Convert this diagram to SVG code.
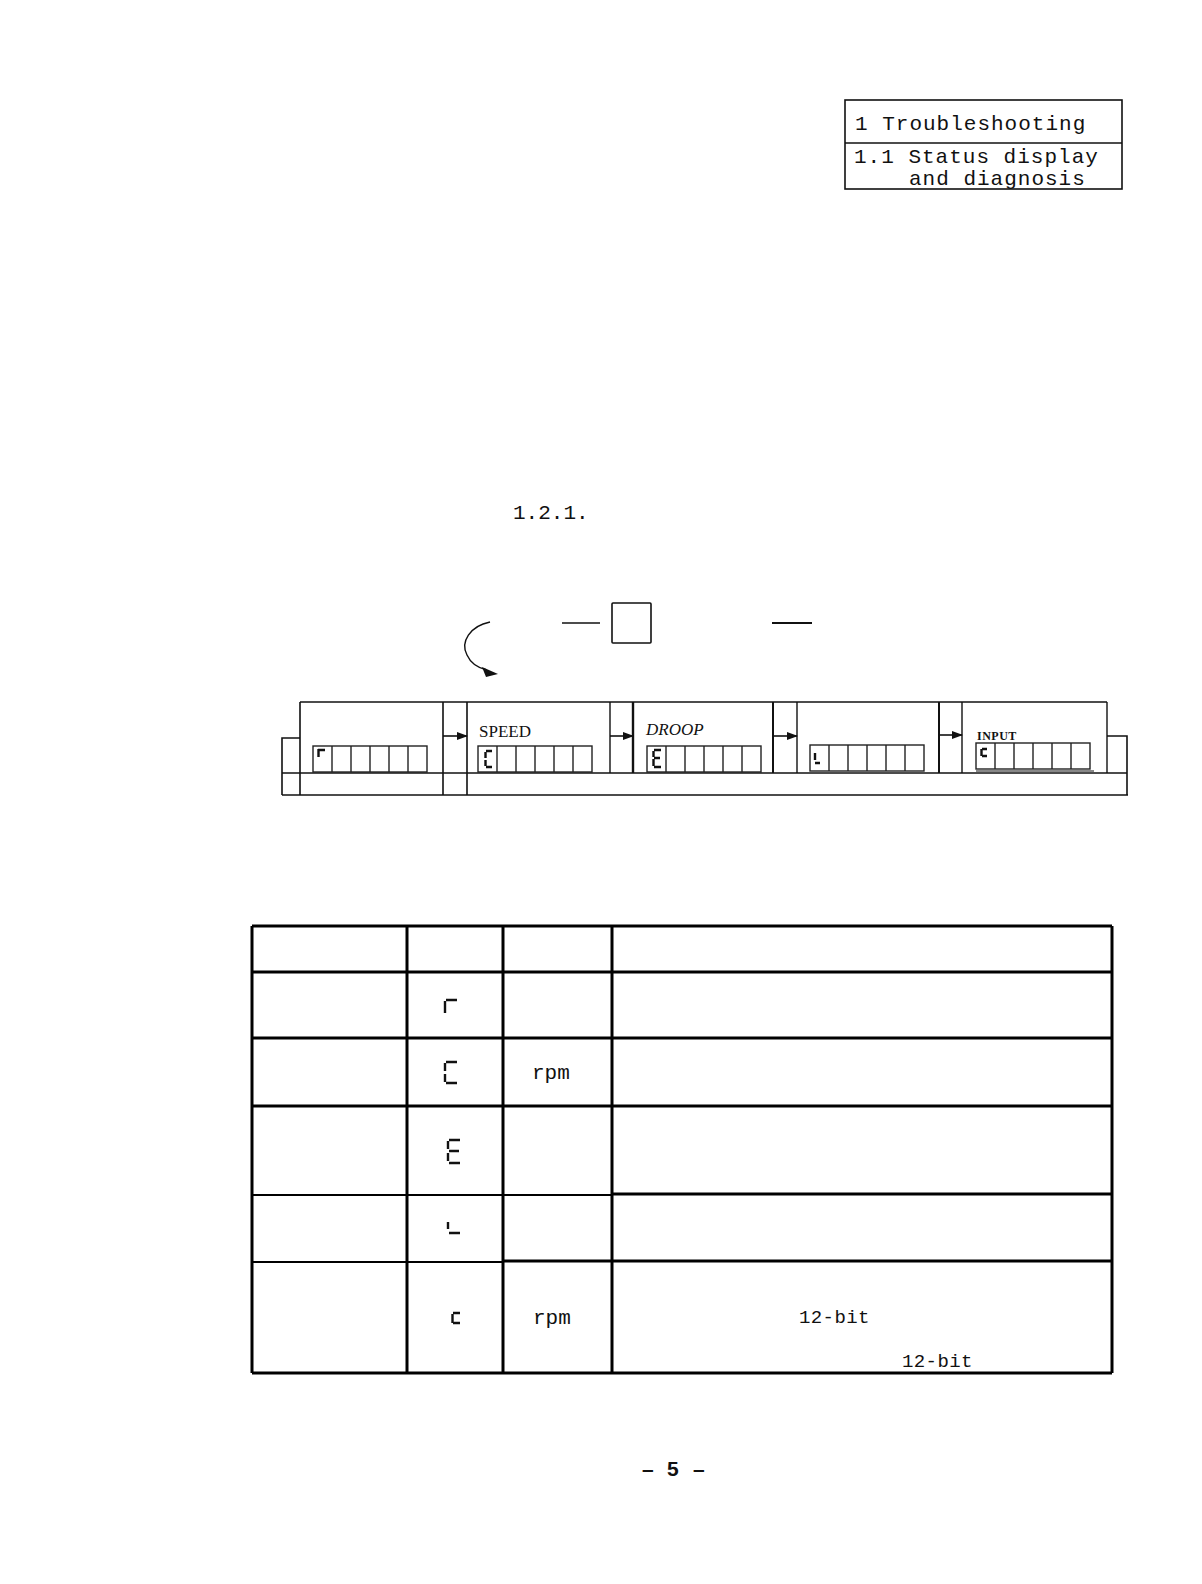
<svg xmlns="http://www.w3.org/2000/svg" width="1202" height="1584" viewBox="0 0 1202 1584">
<style>
.mono{font-family:"Liberation Mono","DejaVu Sans Mono",monospace;fill:#111}
.ln{stroke:#111;fill:none}
.seg{stroke:#111;stroke-width:2.4;fill:none;stroke-linecap:butt}
.cell{stroke:#222;stroke-width:1.4;fill:none}
.tb{stroke:#000;stroke-width:3;fill:none}
.tt{stroke:#000;stroke-width:2;fill:none}
.pg{font-family:"Liberation Sans",Arial,sans-serif;font-size:21px;font-weight:bold;fill:#111}
</style>
<defs>
<marker id="ah" markerWidth="11" markerHeight="8" refX="10" refY="4" orient="auto" markerUnits="userSpaceOnUse">
<path d="M0,0 L11,4 L0,8 Z" fill="#111"/>
</marker>
<g id="cells6">
<rect x="0" y="0" width="114" height="26" class="cell"/>
<path d="M19,0V26M38,0V26M57,0V26M76,0V26M95,0V26" class="cell"/>
</g>
</defs>
<rect width="1202" height="1584" fill="#fff"/>

<g id="header">
<rect x="845" y="100" width="277" height="89" class="ln" stroke-width="1.6"/>
<line x1="845" y1="143" x2="1122" y2="143" class="ln" stroke-width="1.6"/>
<text x="855" y="130" class="mono" font-size="21" letter-spacing="1">1 Troubleshooting</text>
<text x="854" y="163" class="mono" font-size="21" letter-spacing="1">1.1 Status display</text>
<text x="909" y="185" class="mono" font-size="21" letter-spacing="1">and diagnosis</text>
</g>

<g id="section-ref">
<text x="513" y="519" class="mono" font-size="21">1.2.1.</text>
</g>

<g id="key">
<rect x="612" y="603" width="39" height="40" rx="1" class="ln" stroke-width="1.6"/>
<line x1="562" y1="623" x2="600" y2="623" class="ln" stroke-width="1.3"/>
<line x1="772" y1="623" x2="812" y2="623" class="ln" stroke-width="1.8"/>
<path d="M490,622 C470,626 460,642 467,655 C471,664 478,668 487,670" class="ln" stroke-width="1.4"/>
<path d="M498,674 L482,667 L486,677 Z" fill="#111"/>
</g>

<g id="strip-frame">
<line x1="300" y1="702" x2="1107" y2="702" class="ln" stroke-width="1.6"/>
<line x1="282" y1="773" x2="1127" y2="773" class="ln" stroke-width="1.6"/>
<line x1="282" y1="795" x2="1128" y2="795" class="ln" stroke-width="1.4"/>
<path d="M300,738 H282 V795" class="ln" stroke-width="1.6"/>
<path d="M300,702 V795 M443,702 V795 M467,702 V795" class="ln" stroke-width="1.6"/>
<path d="M1107,736 H1127 V795" class="ln" stroke-width="1.6"/>
</g>

<g id="node-1">
<use href="#cells6" x="313" y="746"/>
<path d="M318,750 H325 M318.5,749 V757" class="seg"/>
</g>

<g id="node-speed">
<line x1="610" y1="702" x2="610" y2="773" class="ln" stroke-width="1.4"/>
<text x="479" y="737" font-family="Liberation Serif, serif" font-size="17" fill="#111">SPEED</text>
<use href="#cells6" x="478" y="746"/>
<path d="M486,751 H492 M485.5,752 V758 M485.5,760 V766 M486,767 H492" class="seg"/>
</g>

<g id="node-droop">
<line x1="633" y1="702" x2="633" y2="773" class="ln" stroke-width="2.4"/>
<line x1="773" y1="702" x2="773" y2="773" class="ln" stroke-width="2"/>
<text x="646" y="735" font-family="Liberation Serif, serif" font-style="italic" font-size="17" fill="#111">DROOP</text>
<use href="#cells6" x="647" y="746"/>
<path d="M654,750 H661 M654,758 H660 M654,767 H661 M653.5,751 V757 M653.5,759 V766" class="seg"/>
</g>

<g id="node-4">
<line x1="797" y1="702" x2="797" y2="773" class="ln" stroke-width="1.4"/>
<line x1="939" y1="702" x2="939" y2="773" class="ln" stroke-width="2"/>
<use href="#cells6" x="810" y="745"/>
<path d="M815,753 V760 M815,763 H820" class="seg"/>
</g>

<g id="node-input">
<line x1="962" y1="702" x2="962" y2="773" class="ln" stroke-width="1.4"/>
<line x1="1107" y1="702" x2="1107" y2="773" class="ln" stroke-width="1.4"/>
<text x="977" y="740" font-family="Liberation Serif, serif" font-size="12" font-weight="bold" letter-spacing="0.5" fill="#111">INPUT</text>
<use href="#cells6" x="976" y="743"/>
<line x1="976" y1="771" x2="1094" y2="771" class="ln" stroke-width="1"/>
<path d="M982,749 H987 M981.5,749 V756 M982,756 H987" class="seg" stroke-width="1.8"/>
</g>

<g id="connectors">
<line x1="443" y1="736" x2="467" y2="736" class="ln" stroke-width="1.6" marker-end="url(#ah)"/>
<line x1="610" y1="736" x2="633" y2="736" class="ln" stroke-width="1.6" marker-end="url(#ah)"/>
<line x1="773" y1="736" x2="797" y2="736" class="ln" stroke-width="1.6" marker-end="url(#ah)"/>
<line x1="939" y1="735" x2="962" y2="735" class="ln" stroke-width="1.6" marker-end="url(#ah)"/>
</g>

<g id="table">
<path d="M252,926 H1112 M252,926 V1373 M407,926 V1373 M503,926 V1373 M612,926 V1373 M1112,926 V1373 M252,1373 H1112" class="tb"/>
<path d="M252,972 H1112 M252,1038 H1112 M252,1106 H1112" class="tb"/>
<path d="M252,1195 H612 M252,1262 H503" class="tt"/>
<path d="M503,1261 H1112 M612,1194 H1112" class="tb"/>
<path d="M446,1000 H457 M445,1001 V1013" class="seg" stroke-width="2.8"/>
<path d="M446,1062 H457 M445,1063 V1071 M445,1074 V1082 M446,1083 H457" class="seg" stroke-width="2.8"/>
<path d="M449,1140 H460 M449,1151 H459 M449,1163 H460 M448,1141 V1149 M448,1153 V1161" class="seg" stroke-width="2.8"/>
<path d="M448,1222 V1229 M449,1233 H460" class="seg" stroke-width="2.8"/>
<path d="M453,1313 H460 M452.5,1314 V1323 M453,1323 H460" class="seg" stroke-width="2.6"/>
<text x="532" y="1079" class="mono" font-size="21">rpm</text>
<text x="533" y="1324" class="mono" font-size="21">rpm</text>
<text x="799" y="1323" class="mono" font-size="19" letter-spacing="0.4">12-bit</text>
<text x="902" y="1367" class="mono" font-size="19" letter-spacing="0.4">12-bit</text>
</g>

<g id="page-number">
<text x="642" y="1476" class="pg">–</text>
<text x="667" y="1476" class="pg">5</text>
<text x="693" y="1476" class="pg">–</text>
</g>
</svg>
